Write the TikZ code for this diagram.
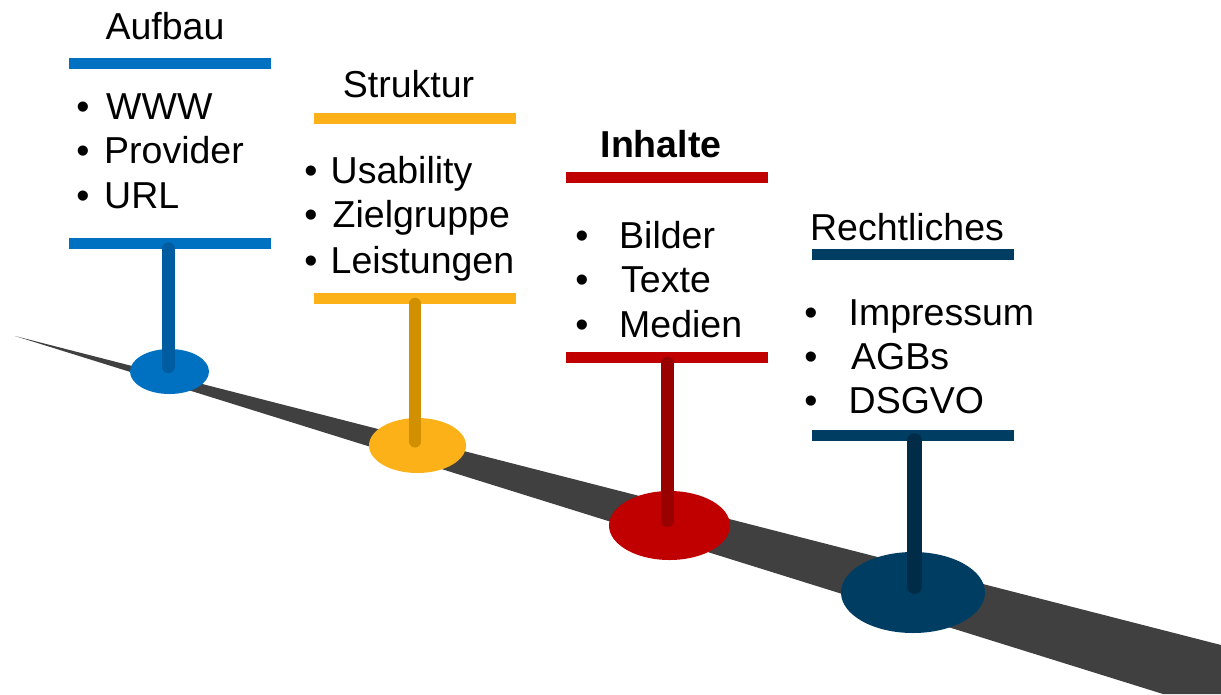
\documentclass[tikz,border=0pt]{standalone}
\usepackage{fontspec}
\setmainfont{Liberation Sans}
\usetikzlibrary{shapes.geometric}
\definecolor{roadgray}{RGB}{64,64,64}
\definecolor{cblue}{RGB}{0,112,192}
\definecolor{cbluedk}{RGB}{0,92,160}
\definecolor{cgold}{RGB}{251,177,23}
\definecolor{cgolddk}{RGB}{208,144,0}
\definecolor{cred}{RGB}{192,0,0}
\definecolor{creddk}{RGB}{153,0,0}
\definecolor{cnavy}{RGB}{0,61,98}
\definecolor{cnavydk}{RGB}{0,44,72}
\begin{document}
\begin{tikzpicture}[x=1pt,y=-1pt,
  fnt/.style={font=\fontsize{37.5}{44}\selectfont},
  itemtxt/.style={fnt, inner sep=0pt, anchor=base west},
  ttl/.style={fnt, inner sep=0pt, anchor=base},
  bul/.style={fnt, inner sep=0pt, anchor=base},
  barbox/.style={rectangle, inner sep=0pt, minimum width=202pt, minimum height=11pt, fill=#1},
  basebox/.style={ellipse, inner sep=0pt, fill=#1},
  post/.style={line width=#1, line cap=round}
]
\useasboundingbox (0,0) rectangle (1221,694);
% road
\fill[roadgray] (15,336) -- (1221,645) -- (1221,694) -- (1163,694) -- cycle;

% bases
\node[basebox=cblue, minimum width=79pt, minimum height=45pt] (base1) at (169.5,371.5) {};
\node[basebox=cgold, minimum width=97pt, minimum height=55pt] (base2) at (417.5,445.5) {};
\node[basebox=cred, minimum width=121pt, minimum height=69pt] (base3) at (669.5,525.5) {};
\node[basebox=cnavy, minimum width=144pt, minimum height=81pt] (base4) at (913,592.5) {};

% bars
\node[barbox=cblue] (top1) at (170,63.5) {};
\node[barbox=cblue] (bot1) at (170,243) {};
\node[barbox=cgold] (top2) at (415,118) {};
\node[barbox=cgold] (bot2) at (415,298) {};
\node[barbox=cred] (top3) at (667,177.5) {};
\node[barbox=cred] (bot3) at (667,357.5) {};
\node[barbox=cnavy] (top4) at (913,254.5) {};
\node[barbox=cnavy] (bot4) at (913,435) {};

% posts
\draw[post=13pt, cbluedk] ([xshift=-1pt,yshift=5pt]base1.center) -- ([xshift=-1pt]base1.center |- bot1.south);
\draw[post=12pt, cgolddk] ([xshift=-2.5pt,yshift=4pt]base2.center) -- ([xshift=-2.5pt]base2.center |- bot2.south);
\draw[post=13pt, creddk] ([xshift=-2pt,yshift=5pt]base3.center) -- ([xshift=-2pt]base3.center |- bot3.south);
\draw[post=15pt, cnavydk] ([xshift=1.5pt,yshift=6pt]base4.center) -- ([xshift=1.5pt]base4.center |- bot4.south);

% titles
\node[ttl] (t1) at (165,39) {Aufbau};
\node[ttl] (t2) at (408.5,97) {Struktur};
\node[ttl] (t3) at (661,157) {\bfseries Inhalte};
\node[ttl] (t4) at (907,240) {Rechtliches};

% items sign 1
\node[bul] (b11) at (83,119) {•};
\node[bul] (b12) at (83,163) {•};
\node[bul] (b13) at (83,208) {•};
\node[itemtxt] (i11) at (106,119) {WWW};
\node[itemtxt] (i12) at (104,163) {Provider};
\node[itemtxt] (i13) at (104,208) {URL};

% items sign 2
\node[bul] (b21) at (311,183) {•};
\node[bul] (b22) at (311,227) {•};
\node[bul] (b23) at (311,273) {•};
\node[itemtxt] (i21) at (330.5,183) {Usability};
\node[itemtxt] (i22) at (332.5,227) {Zielgruppe};
\node[itemtxt] (i23) at (330.5,273) {Leistungen};

% items sign 3
\node[bul] (b31) at (582,248) {•};
\node[bul] (b32) at (582,292) {•};
\node[bul] (b33) at (582,337) {•};
\node[itemtxt] (i31) at (619,248) {Bilder};
\node[itemtxt] (i32) at (621,292) {Texte};
\node[itemtxt] (i33) at (619,337) {Medien};

% items sign 4
\node[bul] (b41) at (811,325) {•};
\node[bul] (b42) at (811,369) {•};
\node[bul] (b43) at (811,413) {•};
\node[itemtxt] (i41) at (848.5,325) {Impressum};
\node[itemtxt] (i42) at (851,369) {AGBs};
\node[itemtxt] (i43) at (848.5,413) {DSGVO};
\end{tikzpicture}
\end{document}
